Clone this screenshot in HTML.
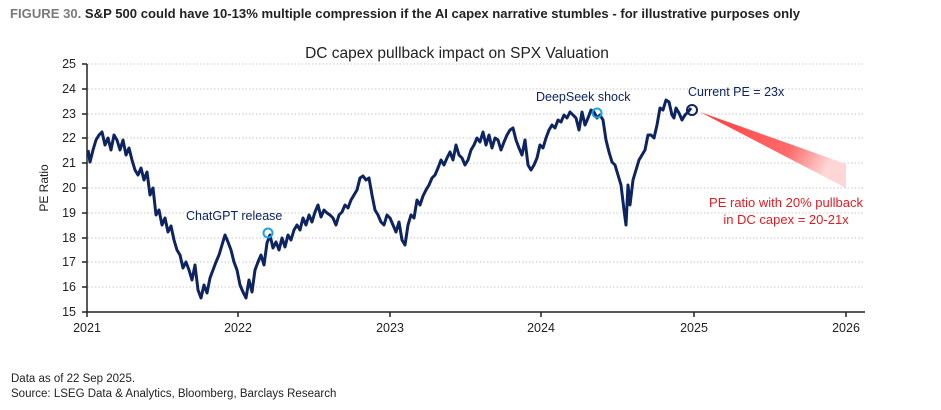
<!DOCTYPE html>
<html><head><meta charset="utf-8"><style>
body{margin:0;background:#fff;width:941px;height:405px;overflow:hidden;font-family:"Liberation Sans",sans-serif}
</style></head><body>
<svg width="941" height="405" xmlns="http://www.w3.org/2000/svg" font-family="Liberation Sans, sans-serif">
<defs><linearGradient id="g" x1="0" y1="0" x2="1" y2="0.3"><stop offset="0" stop-color="#ff3b3b"/><stop offset="0.7" stop-color="#ff6b6b"/><stop offset="1" stop-color="#ffd6d6"/></linearGradient></defs>
<text x="10" y="18" font-size="13" font-weight="bold" fill="#7a7a7a" textLength="790" lengthAdjust="spacingAndGlyphs">FIGURE 30. <tspan fill="#222">S&amp;P 500 could have 10-13% multiple compression if the AI capex narrative stumbles - for illustrative purposes only</tspan></text>
<text x="457" y="58" font-size="15.5" text-anchor="middle" fill="#222">DC capex pullback impact on SPX Valuation</text>
<g stroke="#c8c8c8" stroke-dasharray="1.5,2" stroke-width="1">
<line x1="88" x2="865" y1="64" y2="64"/><line x1="88" x2="865" y1="89" y2="89"/><line x1="88" x2="865" y1="114" y2="114"/><line x1="88" x2="865" y1="138" y2="138"/><line x1="88" x2="865" y1="163" y2="163"/><line x1="88" x2="865" y1="188" y2="188"/><line x1="88" x2="865" y1="213" y2="213"/><line x1="88" x2="865" y1="238" y2="238"/><line x1="88" x2="865" y1="262" y2="262"/><line x1="88" x2="865" y1="287" y2="287"/>
</g>
<g stroke="#222" stroke-width="1.5"><line x1="87" y1="64" x2="87" y2="312"/><line x1="87" y1="312" x2="865" y2="312"/>
<line x1="82" x2="87" y1="64" y2="64"/><line x1="82" x2="87" y1="89" y2="89"/><line x1="82" x2="87" y1="114" y2="114"/><line x1="82" x2="87" y1="138" y2="138"/><line x1="82" x2="87" y1="163" y2="163"/><line x1="82" x2="87" y1="188" y2="188"/><line x1="82" x2="87" y1="213" y2="213"/><line x1="82" x2="87" y1="238" y2="238"/><line x1="82" x2="87" y1="262" y2="262"/><line x1="82" x2="87" y1="287" y2="287"/><line x1="82" x2="87" y1="312" y2="312"/>
<line x1="87" x2="87" y1="312" y2="317"/><line x1="238" x2="238" y1="312" y2="317"/><line x1="390" x2="390" y1="312" y2="317"/><line x1="541" x2="541" y1="312" y2="317"/><line x1="694" x2="694" y1="312" y2="317"/><line x1="846" x2="846" y1="312" y2="317"/></g>
<g font-size="12.5" fill="#222" text-anchor="end">
<text x="76" y="68">25</text><text x="76" y="93">24</text><text x="76" y="118">23</text><text x="76" y="142">22</text><text x="76" y="167">21</text><text x="76" y="192">20</text><text x="76" y="217">19</text><text x="76" y="242">18</text><text x="76" y="266">17</text><text x="76" y="291">16</text><text x="76" y="316">15</text></g>
<g font-size="12.5" fill="#222" text-anchor="middle">
<text x="87" y="332">2021</text><text x="238" y="332">2022</text><text x="390" y="332">2023</text><text x="541" y="332">2024</text><text x="694" y="332">2025</text><text x="846" y="332">2026</text></g>
<text transform="translate(48,188) rotate(-90)" font-size="12" fill="#222" text-anchor="middle">PE Ratio</text>
<polygon points="700,112 846,164 846,188" fill="url(#g)"/>
<polyline fill="none" stroke="#0d2461" stroke-width="3" stroke-linejoin="round" points="88,150 90,162 93,150 96,140 99,135 102,132 105,145 108,138 111,150 114,135 117,140 120,150 123,140 126,155 129,148 132,160 135,170 138,175 141,168 144,180 147,172 150,195 153,188 156,215 159,210 162,225 165,218 168,232 171,226 174,240 177,250 180,255 183,268 186,262 189,270 192,280 195,265 198,290 201,298 204,285 207,293 210,278 213,270 216,262 219,255 222,245 225,235 228,242 231,250 234,262 237,270 240,285 243,292 246,298 249,280 252,292 255,270 258,262 261,255 264,265 267,243 270,235 273,248 276,242 279,250 282,238 285,247 288,235 291,240 294,230 297,225 300,230 303,218 306,225 309,215 312,222 315,212 318,205 321,217 324,210 327,213 330,215 333,218 336,225 339,215 342,212 345,205 348,208 351,200 354,195 357,190 360,178 363,176 366,180 369,178 372,195 375,210 378,215 381,222 384,225 387,215 390,218 393,225 396,232 399,222 402,240 405,245 408,225 411,215 414,218 417,200 420,205 423,196 426,190 429,185 432,178 435,175 438,168 441,160 444,165 447,158 450,152 453,160 456,145 459,155 462,158 465,165 468,160 471,150 474,145 477,138 480,142 483,132 486,145 489,135 492,148 495,138 498,140 501,150 504,142 507,135 510,130 513,128 516,140 519,148 522,155 525,140 528,165 531,170 534,165 537,158 540,145 543,148 546,138 549,130 552,125 555,128 558,120 561,122 564,115 567,118 570,112 573,115 576,118 579,130 582,112 585,125 588,118 591,110 594,112 597,118 600,115 603,120 606,140 609,152 612,162 615,165 618,175 621,185 624,210 626,225 628,185 630,205 633,180 636,170 639,160 642,155 645,150 648,135 651,135 654,138 657,125 660,108 663,110 666,100 669,102 672,115 674,118 676,108 679,113 682,120 685,115 688,112 691,108"/>
<circle cx="268" cy="233" r="4.5" fill="none" stroke="#1aa3e0" stroke-width="2"/>
<circle cx="597" cy="113" r="4.5" fill="none" stroke="#1aa3e0" stroke-width="2"/>
<circle cx="692" cy="110" r="5" fill="none" stroke="#0d2461" stroke-width="2"/>
<g font-size="12.5" fill="#0d2461">
<text x="186" y="220">ChatGPT release</text>
<text x="536" y="101">DeepSeek shock</text>
<text x="688" y="96">Current PE = 23x</text></g>
<g font-size="13" fill="#e31b23" text-anchor="middle">
<text x="786" y="207">PE ratio with 20% pullback</text>
<text x="786" y="224">in DC capex = 20-21x</text></g>
<g font-size="11.5" fill="#222"><text x="11" y="382">Data as of 22 Sep 2025.</text><text x="11" y="397">Source: LSEG Data &amp; Analytics, Bloomberg, Barclays Research</text></g>
</svg>
</body></html>
